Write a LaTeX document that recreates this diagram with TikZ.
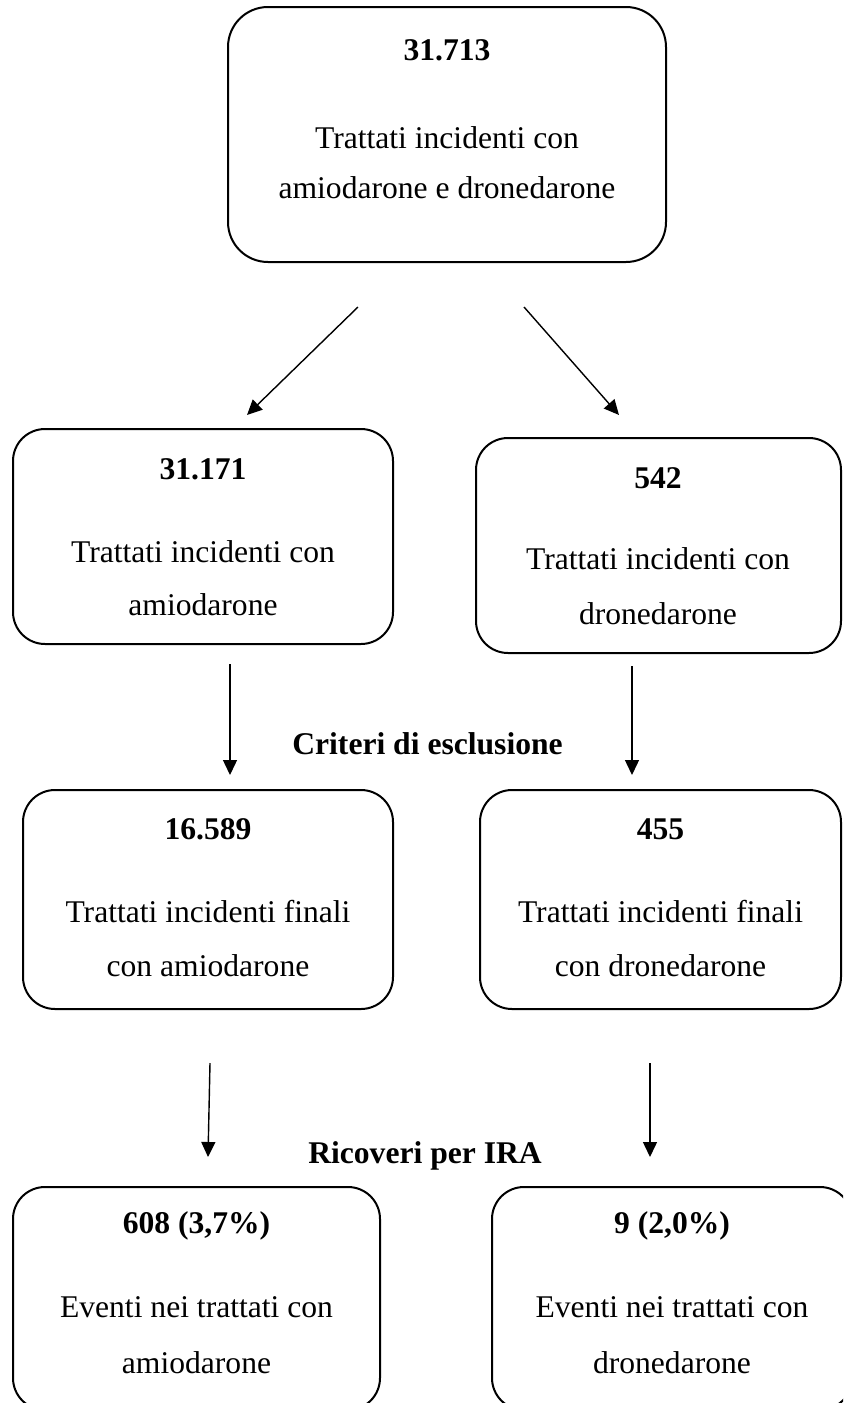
\documentclass[tikz,border=0pt]{standalone}
\usepackage{fontspec}
\setmainfont{Liberation Serif}
\usetikzlibrary{arrows.meta}
\newcommand\numfnt{\fontsize{15.8pt}{19pt}\selectfont\bfseries}
\newcommand\txtfnt{\fontsize{15.8pt}{19pt}\selectfont}
\begin{document}
\begin{tikzpicture}[x=0.5pt,y=-0.5pt,
  box/.style 2 args={draw=black, line width=1pt, rounded corners=16pt, inner sep=0pt, outer sep=0pt,
    minimum width=#1*0.5pt, minimum height=#2*0.5pt},
  bigbox/.style 2 args={box={#1}{#2}, rounded corners=20pt},
  num/.style={font=\numfnt, anchor=base, inner sep=0pt},
  txt/.style={font=\txtfnt, anchor=base, inner sep=0pt},
  arr/.style={line width=0.7pt, -{Triangle[length=7.5pt,width=7pt]}}]
\useasboundingbox (0,0) rectangle (843,1403);
\begin{scope}
\clip (0,0) rectangle (843,1403);
% top box
\node[bigbox={438}{255}] (b0) at (447,134.5) {};
\node[num] (n0) at (447,60) {31.713};
\node[txt] (t0a) at (447,148) {Trattati incidenti con};
\node[txt] (t0b) at (447,198) {amiodarone e dronedarone};
% row 2
\node[box={380}{215}] (b1) at (203,536.5) {};
\node[num] (n1) at (203,479) {31.171};
\node[txt] (t1a) at (203,562) {Trattati incidenti con};
\node[txt] (t1b) at (203,615) {amiodarone};
\node[box={365}{215}] (b2) at (658.5,545.5) {};
\node[num] (n2) at (658,488) {542};
\node[txt] (t2a) at (658,569) {Trattati incidenti con};
\node[txt] (t2b) at (658,624) {dronedarone};
% row 3
\node[box={370}{219}] (b3) at (208,899.5) {};
\node[num] (n3) at (208,839) {16.589};
\node[txt] (t3a) at (208,922) {Trattati incidenti finali};
\node[txt] (t3b) at (208,976) {con amiodarone};
\node[box={361}{219}] (b4) at (660.5,899.5) {};
\node[num] (n4) at (660.5,839) {455};
\node[txt] (t4a) at (660.5,922) {Trattati incidenti finali};
\node[txt] (t4b) at (660.5,976) {con dronedarone};
% row 4
\node[box={367}{223}] (b5) at (196.5,1298.5) {};
\node[num] (n5) at (196.5,1233) {608 (3,7\%)};
\node[txt] (t5a) at (196.5,1317) {Eventi nei trattati con};
\node[txt] (t5b) at (196.5,1373) {amiodarone};
\node[box={360}{223}] (b6) at (672,1298.5) {};
\node[num] (n6) at (672,1233) {9 (2,0\%)};
\node[txt] (t6a) at (672,1317) {Eventi nei trattati con};
\node[txt] (t6b) at (672,1373) {dronedarone};
% labels
\node[num] (l1) at (427.5,754) {Criteri di esclusione};
\node[num] (l2) at (425,1163) {Ricoveri per IRA};
% arrow endpoints
\coordinate (a1s) at (358,307); \coordinate (a1e) at (247,415);
\coordinate (a2s) at (524,307); \coordinate (a2e) at (619,415);
\coordinate (a3s) at (230,664); \coordinate (a3e) at (230,775);
\coordinate (a4s) at (632,666); \coordinate (a4e) at (632,775);
\coordinate (a5s) at (210,1063); \coordinate (a5e) at (208,1157);
\coordinate (a6s) at (650,1063); \coordinate (a6e) at (650,1157);
\draw[arr] (a1s) -- (a1e);
\draw[arr] (a2s) -- (a2e);
\draw[arr] (a3s) -- (a3e);
\draw[arr] (a4s) -- (a4e);
\draw[arr] (a5s) -- (a5e);
\draw[arr] (a6s) -- (a6e);
\end{scope}
\end{tikzpicture}
\end{document}
